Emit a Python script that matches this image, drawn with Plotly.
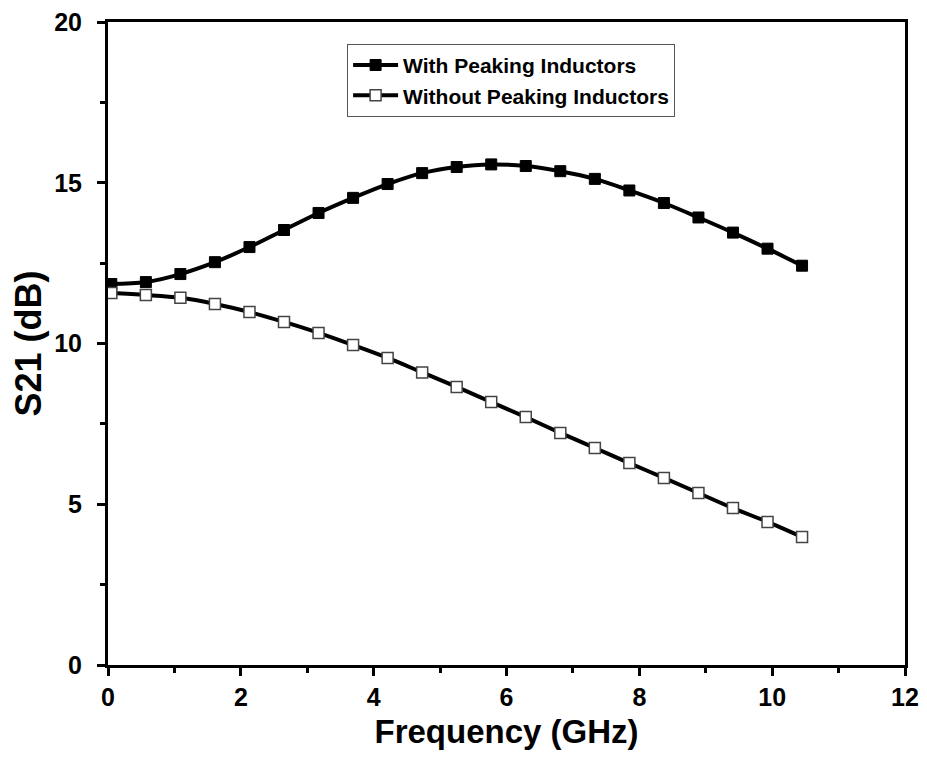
import plotly.graph_objects as go

freq = [0.05 + 0.52 * i for i in range(21)]
with_peaking = [11.85, 11.91, 12.16, 12.53, 13.00, 13.53, 14.06, 14.53, 14.96, 15.30, 15.49,
                15.57, 15.52, 15.36, 15.12, 14.76, 14.37, 13.92, 13.45, 12.95, 12.42]
without_peaking = [11.57, 11.51, 11.42, 11.23, 10.98, 10.67, 10.33, 9.95, 9.55, 9.10, 8.65,
                   8.18, 7.71, 7.22, 6.75, 6.28, 5.82, 5.35, 4.88, 4.45, 3.98]
x_ticks = [0, 2, 4, 6, 8, 10, 12]
y_ticks = [0, 5, 10, 15, 20]

fig = go.Figure()
fig.add_trace(go.Scatter(
    x=freq, y=with_peaking, mode="lines+markers", name="With Peaking Inductors",
    line=dict(color="black", width=4, shape="spline"),
    marker=dict(symbol="square", size=11, color="black", line=dict(color="black", width=1)),
))
fig.add_trace(go.Scatter(
    x=freq, y=without_peaking, mode="lines+markers", name="Without Peaking Inductors",
    line=dict(color="black", width=4, shape="spline"),
    marker=dict(symbol="square", size=11, color="white", line=dict(color="#444", width=1.5)),
))

tickfont = dict(family="Liberation Sans, Arial", size=25, color="black", weight="bold")
fig.update_layout(
    width=927, height=765,
    margin=dict(l=100, r=30, t=14, b=108, autoexpand=False),
    paper_bgcolor="white", plot_bgcolor="white",
    showlegend=True,
    legend=dict(
        x=0.30, y=0.966, xanchor="left", yanchor="top",
        bgcolor="white", bordercolor="#555", borderwidth=1,
        font=dict(family="Liberation Sans, Arial", size=21, color="black", weight="bold"),
        tracegroupgap=0, itemwidth=45,
    ),
    xaxis=dict(
        range=[0, 12], tickvals=x_ticks, ticks="outside", ticklen=8, tickwidth=3, tickcolor="black",
        minor=dict(dtick=1, ticks="outside", ticklen=5, tickwidth=3, tickcolor="black"),
        showline=True, linecolor="black", linewidth=3, mirror=True, showgrid=False, zeroline=False,
        tickfont=tickfont, automargin=False, ticklabeloverflow="allow",
        title=dict(text="Frequency (GHz)", font=dict(family="Liberation Sans, Arial", size=33, color="black", weight="bold"), standoff=10),
    ),
    yaxis=dict(
        range=[0, 20], tickvals=y_ticks, ticks="outside", ticklen=8, tickwidth=3, tickcolor="black",
        minor=dict(dtick=2.5, ticks="outside", ticklen=5, tickwidth=3, tickcolor="black"),
        showline=True, linecolor="black", linewidth=3, mirror=True, showgrid=False, zeroline=False,
        tickfont=tickfont, automargin=False, ticklabeloverflow="allow", ticklabelstandoff=10,
        title=dict(text="S21 (dB)", font=dict(family="Liberation Sans, Arial", size=36, color="black", weight="bold"), standoff=6),
    ),
)

fig.write_html("out.html")
